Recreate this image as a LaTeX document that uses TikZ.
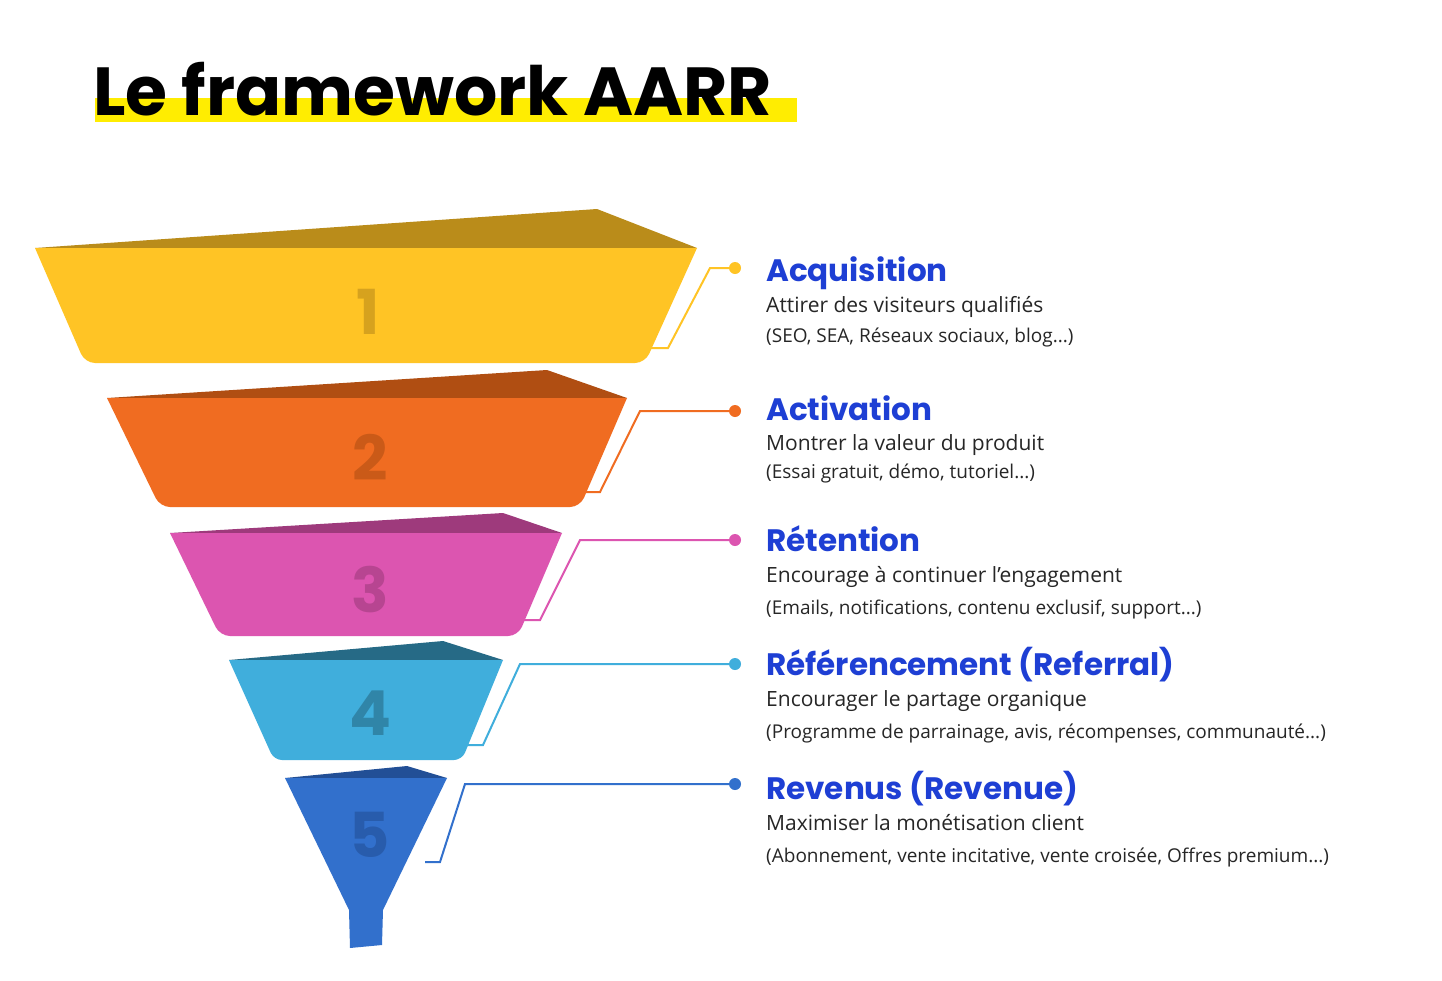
\documentclass[tikz,border=0pt]{standalone}
\usepackage{fontspec}
\setmainfont{Open Sans}
\newfontfamily\headfont{Poppins}
\begin{document}
\begin{tikzpicture}[x=1pt,y=-1pt,
  num/.style={font=\headfont\bfseries\fontsize{62}{62}\selectfont},
  ttl/.style={anchor=base west,inner sep=0pt,text=tblue,font=\headfont\fontsize{31}{31}\selectfont\bfseries},
  sub/.style={anchor=base west,inner sep=0pt,text=black!85,font=\fontsize{21}{21}\selectfont},
  sub2/.style={anchor=base west,inner sep=0pt,text=black!85,font=\fontsize{19}{19}\selectfont},
  conn/.style={line width=2pt},
  dot/.style={circle,inner sep=0pt,minimum size=12pt}]
\definecolor{tblue}{HTML}{1E3FD4}
\definecolor{cA}{HTML}{FFC425}\definecolor{tA}{HTML}{BA8C1A}
\definecolor{cB}{HTML}{F06C21}\definecolor{tB}{HTML}{B04E12}
\definecolor{cC}{HTML}{DC55B0}\definecolor{tC}{HTML}{9E3A7C}
\definecolor{cD}{HTML}{40AEDC}\definecolor{tD}{HTML}{266A86}
\definecolor{cE}{HTML}{3270CC}\definecolor{tE}{HTML}{224F96}
\useasboundingbox (0,0) rectangle (1442,980);
\fill[white] (0,0) rectangle (1442,980);
% title
\fill[yellow!95!orange] (95,98) rectangle (797,122);
\node[anchor=base west,inner sep=0pt,font=\headfont\bfseries\fontsize{68}{68}\selectfont] (title) at (93,115) {Le framework AARR};
% layers
\fill[tA] (35,248) -- (597,209) -- (697,248) -- cycle;
\fill[cA] (35,248) -- (697,248) [rounded corners=10] -- (645,363) -- (85,363) [sharp corners] -- cycle;
\fill[tB] (107,398) -- (547,370) -- (627,398) -- cycle;
\fill[cB] (107,398) -- (627,398) [rounded corners=10] -- (580,507) -- (160,507) [sharp corners] -- cycle;
\fill[tC] (170,533) -- (503,513) -- (562,533) -- cycle;
\fill[cC] (170,533) -- (562,533) [rounded corners=10] -- (518,636) -- (220,636) [sharp corners] -- cycle;
\fill[tD] (229,660) -- (443,641) -- (503,660) -- cycle;
\fill[cD] (229,660) -- (503,660) [rounded corners=8] -- (462,760) -- (274,760) [sharp corners] -- cycle;
\fill[tE] (285,778) -- (407,766) -- (447,778) -- cycle;
\fill[cE] (285,778) -- (447,778) -- (383,910) -- (382,945) -- (350,948) -- (349,910) -- cycle;
% numbers
\node[num,text=tA!60!cA] (n1) at (368,312) {1};
\node[num,text=tB!60!cB] (n2) at (370,457) {2};
\node[num,text=tC!60!cC] (n3) at (370,590) {3};
\node[num,text=tD!60!cD] (n4) at (370,713) {4};
\node[num,text=tE!60!cE] (n5) at (370,835) {5};
% connectors
\coordinate (a0) at (650,348); \node[dot,fill=cA] (d1) at (735,268) {};
\draw[conn,cA] (a0) -- (668,348) -- (710,268) -- (d1.center);
\coordinate (b0) at (585,492); \node[dot,fill=cB] (d2) at (735,411) {};
\draw[conn,cB] (b0) -- (600,492) -- (640,411) -- (d2.center);
\coordinate (c0) at (522,620); \node[dot,fill=cC] (d3) at (735,540) {};
\draw[conn,cC] (c0) -- (540,620) -- (580,540) -- (d3.center);
\coordinate (e0) at (465,745); \node[dot,fill=cD] (d4) at (735,664) {};
\draw[conn,cD] (e0) -- (483,745) -- (520,664) -- (d4.center);
\coordinate (f0) at (425,862); \node[dot,fill=cE] (d5) at (735,784) {};
\draw[conn,cE] (f0) -- (440,862) -- (465,784) -- (d5.center);
% texts
\node[ttl] (t1) at (766,281) {Acquisition};
\node[sub] (s1) at (766,312) {Attirer des visiteurs qualifiés};
\node[sub2] (u1) at (766,342) {(SEO, SEA, Réseaux sociaux, blog...)};
\node[ttl] (t2) at (766,420) {Activation};
\node[sub] (s2) at (766,450) {Montrer la valeur du produit};
\node[sub2] (u2) at (766,478) {(Essai gratuit, démo, tutoriel...)};
\node[ttl] (t3) at (766,551) {Rétention};
\node[sub] (s3) at (766,582) {Encourage à continuer l’engagement};
\node[sub2] (u3) at (766,614) {(Emails, notifications, contenu exclusif, support...)};
\node[ttl] (t4) at (766,675) {Référencement (Referral)};
\node[sub] (s4) at (766,706) {Encourager le partage organique};
\node[sub2] (u4) at (766,738) {(Programme de parrainage, avis, récompenses, communauté...)};
\node[ttl] (t5) at (766,799) {Revenus (Revenue)};
\node[sub] (s5) at (766,830) {Maximiser la monétisation client};
\node[sub2] (u5) at (766,862) {(Abonnement, vente incitative, vente croisée, Offres premium...)};
\end{tikzpicture}
\end{document}
